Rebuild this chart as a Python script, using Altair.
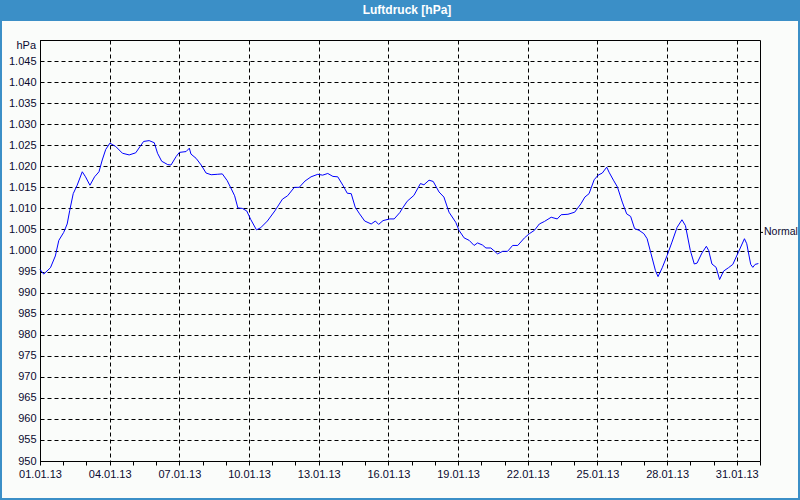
import altair as alt
import pandas as pd

# time axis: days since 01.01.13 00:00
days = [0.0, 0.16, 0.45, 0.66, 0.81, 1.02, 1.17, 1.28, 1.43, 1.60,
        1.82, 1.96, 2.15, 2.35, 2.54, 2.68, 2.83, 3.01, 3.26, 3.55,
        3.84, 4.12, 4.46, 4.70, 4.92, 5.06, 5.24, 5.50, 5.64, 5.86,
        6.00, 6.29, 6.43, 6.50, 6.72, 6.94, 7.15, 7.37,
        7.63, 7.85, 8.06, 8.24, 8.38, 8.52, 8.71, 8.90, 9.07, 9.32,
        9.50, 9.79, 10.11, 10.44, 10.66, 10.95, 11.16, 11.41, 11.67, 11.96,
        12.17, 12.39, 12.61, 12.82, 13.04, 13.23, 13.40, 13.57, 13.76, 13.98,
        14.26, 14.44, 14.58, 14.77, 15.06, 15.25, 15.49,
        15.59, 15.81, 16.10, 16.38, 16.53, 16.75, 16.93, 17.18, 17.39, 17.61,
        17.90, 18.04, 18.26, 18.48, 18.69, 18.84, 19.05, 19.20, 19.41, 19.70,
        19.92, 20.13, 20.35, 20.57, 20.86, 21.07, 21.29, 21.50, 21.72, 22.01,
        22.27, 22.44, 22.73, 23.02,
        23.29, 23.46, 23.64, 23.86, 24.03, 24.21, 24.40, 24.50, 24.69, 24.86,
        25.07, 25.26, 25.43, 25.60, 25.79, 26.00, 26.14, 26.31, 26.50, 26.61,
        26.79, 27.00, 27.21, 27.43, 27.64, 27.79, 28.00, 28.17, 28.29, 28.50,
        28.69, 28.79, 28.93, 29.11, 29.26, 29.43, 29.64, 29.83, 30.07, 30.33,
        30.43, 30.60, 30.69, 30.79, 30.93]

pressure = [995.5, 994.4, 995.9, 998.7, 1002.4, 1004.3, 1006.3, 1009.5, 1013.5, 1015.5,
            1018.7, 1017.5, 1015.5, 1017.5, 1018.7, 1021.5, 1024.0, 1025.5, 1024.7, 1023.1,
            1022.7, 1023.2, 1025.9, 1026.1, 1025.6, 1023.1, 1021.2, 1020.4, 1020.3, 1022.3,
            1023.3, 1023.5, 1024.3, 1022.9, 1021.9, 1020.3, 1018.4, 1018.0,
            1018.1, 1018.2, 1016.6, 1014.6, 1013.0, 1010.1, 1010.0, 1009.4, 1007.4, 1004.9,
            1005.4, 1007.0, 1009.4, 1012.2, 1013.0, 1015.0, 1015.0, 1016.5, 1017.5, 1018.1,
            1017.9, 1018.3, 1017.6, 1017.5, 1015.5, 1013.6, 1013.5, 1010.3, 1008.7, 1007.0,
            1006.3, 1007.0, 1006.2, 1007.1, 1007.5, 1007.5, 1009.0,
            1009.9, 1011.7, 1013.1, 1015.9, 1015.6, 1016.7, 1016.4, 1013.9, 1012.7, 1009.1,
            1006.7, 1004.8, 1003.0, 1002.4, 1001.2, 1001.8, 1001.3, 1000.6, 1000.6, 999.2,
            999.8, 999.8, 1001.2, 1001.2, 1003.0, 1004.0, 1004.8, 1006.3, 1006.9, 1007.9,
            1007.5, 1008.5, 1008.6, 1009.1,
            1011.1, 1012.7, 1013.5, 1016.8, 1017.9, 1018.4, 1019.8, 1018.6, 1016.7, 1015.1,
            1011.5, 1008.7, 1008.1, 1005.2, 1004.8, 1004.0, 1002.8, 999.2, 995.2, 993.8,
            995.9, 998.8, 1002.0, 1005.5, 1007.3, 1005.9, 1000.0, 996.8, 997.0, 999.4,
            1001.0, 1000.0, 996.8, 996.0, 993.1, 995.1, 995.9, 996.7, 999.6, 1002.8,
            1001.6, 996.7, 996.0, 996.7, 996.9]

normal_label = ["Normal"]
normal_value = [1004.3]
title_text = ["Luftdruck [hPa]"]
unit_text = ["hPa"]
y_ticks = list(range(950, 1051, 5))
x_ticks = list(range(0, 32))

df = pd.DataFrame({"day": days, "hPa": pressure})
normal_df = pd.DataFrame({"label": normal_label, "value": normal_value})
title_df = pd.DataFrame({"t": title_text})
unit_df = pd.DataFrame({"t": unit_text})

W, H = 720, 421
FONT = "Liberation Sans"
LBL = "#0a0a30"
BLUE = "#3b8fc7"

x_scale = alt.Scale(domain=[0, 31], nice=False, zero=False)
y_scale = alt.Scale(domain=[950, 1050], nice=False, zero=False)

x_axis = alt.Axis(
    values=x_ticks, title=None,
    labelExpr="datum.value % 3 == 0 && datum.value < 31 ? (datum.value < 9 ? '0' : '') + (datum.value + 1) + '.01.13' : ''",
    labelFlush=False, labelOverlap=False, labelFont=FONT, labelFontSize=11, labelColor=LBL,
    tickSize=4, tickColor="black", labelPadding=3,
    domainColor="black",
    grid=True, gridColor="black", gridDash=[4, 3], gridWidth=1,
    gridOpacity={"condition": {"test": "datum.value % 3 == 0", "value": 1}, "value": 0},
)
y_axis = alt.Axis(
    values=y_ticks, title=None,
    labelExpr="datum.value >= 1050 ? '' : (datum.value >= 1000 ? '1.' + (datum.value < 1010 ? '00' : '0') + (datum.value - 1000) : '' + datum.value)",
    labelFont=FONT, labelFontSize=11, labelColor=LBL, labelOverlap=False,
    ticks=False, labelPadding=4, domainColor="black",
    grid=True, gridColor="black", gridDash=[4, 3], gridWidth=1,
)

line = alt.Chart(df).mark_line(color="#0000ff", strokeWidth=1).encode(
    x=alt.X("day:Q", scale=x_scale, axis=x_axis),
    y=alt.Y("hPa:Q", scale=y_scale, axis=y_axis),
)

normal_tick = alt.Chart(normal_df).mark_rule(color="black", strokeWidth=1).encode(
    y=alt.Y("value:Q", scale=y_scale, axis=y_axis),
    x=alt.value(W), x2=alt.value(W + 3),
)
normal_text = alt.Chart(normal_df).mark_text(
    align="left", baseline="middle", font=FONT, fontSize=10.5, color=LBL
).encode(
    y=alt.Y("value:Q", scale=y_scale, axis=y_axis),
    x=alt.value(W + 4), text="label:N",
)

title_bar = alt.Chart(title_df).mark_rect(color=BLUE).encode(
    x=alt.value(-40), x2=alt.value(W + 40), y=alt.value(-40), y2=alt.value(-19)
)
frame = alt.Chart(title_df).mark_rect(fillOpacity=0, stroke=BLUE, strokeWidth=4).encode(
    x=alt.value(-40), x2=alt.value(W + 40), y=alt.value(-40), y2=alt.value(H + 39)
)
title = alt.Chart(title_df).mark_text(
    color="white", fontWeight="bold", font=FONT, fontSize=12, align="center", baseline="middle"
).encode(x=alt.value(367), y=alt.value(-30), text="t:N")
unit = alt.Chart(unit_df).mark_text(
    color=LBL, font=FONT, fontSize=11, align="right", baseline="middle"
).encode(x=alt.value(-4), y=alt.value(6), text="t:N")

chart = alt.layer(title_bar, frame, line, normal_tick, normal_text, title, unit).properties(
    width=W, height=H,
    autosize=alt.AutoSizeParams(type="none"),
    padding={"left": 40, "top": 40, "right": 40, "bottom": 39},
    background="#fafcfa",
).configure_view(stroke="black", strokeWidth=1)

chart.save("out.html", embed_options={"renderer": "svg", "actions": False})
